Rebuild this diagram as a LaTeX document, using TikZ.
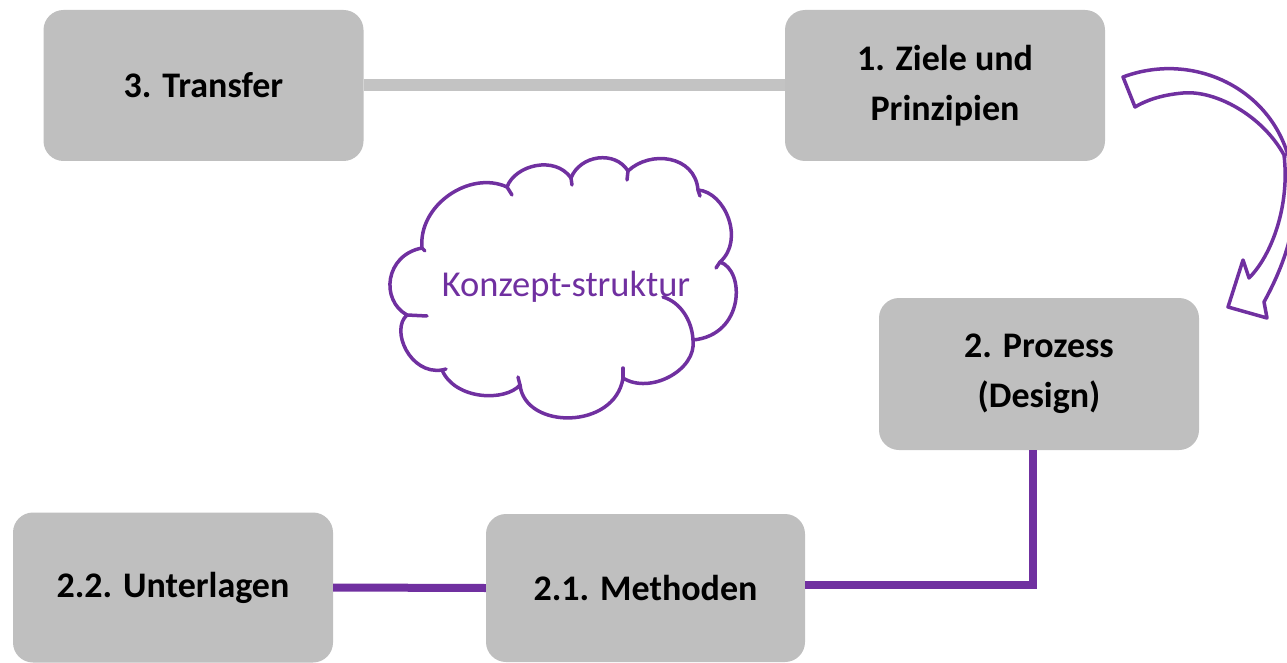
\documentclass[tikz,border=0pt]{standalone}
\usepackage{fontspec}
\setmainfont{Carlito}
\usetikzlibrary{calc}
\definecolor{boxgray}{HTML}{BFBFBF}
\definecolor{linegray}{HTML}{C3C3C3}
\definecolor{vio}{HTML}{7030A0}
\tikzset{
  gbox/.style={rectangle, rounded corners=20pt, fill=boxgray, draw=none,
    minimum width=320pt, minimum height=151pt, inner sep=0pt,
    font=\fontsize{36}{50}\selectfont\bfseries, align=center, text=black},
  grayline/.style={draw=linegray, line width=12pt},
  violine/.style={draw=vio, line width=8pt, line join=miter},
  vthin/.style={draw=vio, line width=3.5pt, line join=round, line cap=round}
}
\begin{document}
\begin{tikzpicture}[x=1pt,y=-1pt]
\useasboundingbox (0,0) rectangle (1287,663);
\clip (0,0) rectangle (1287,663);
% boxes
\node[gbox] (transfer) at (203.5,85.5) {3. Transfer};
\node[gbox] (ziele) at (945,85.5) {1. Ziele und\\Prinzipien};
\node[gbox, minimum height=152pt] (prozess) at (1039,374) {2. Prozess\\(Design)};
\node[gbox, minimum height=148pt, minimum width=319pt] (methoden) at (645.5,588) {2.1. Methoden};
\node[gbox, minimum height=150pt] (unterlagen) at (173,587.5) {2.2. Unterlagen};
% connectors
\draw[grayline] (transfer.east) -- (ziele.west);
\draw[violine] (unterlagen.east) -- (methoden.west);
\coordinate (pz) at ($(prozess.south)+(-6,0)$);
\draw[violine] ($(methoden.east)+(0,-3)$) -| (pz);
% cloud
\coordinate (J1) at (422,248);
\coordinate (J2) at (507,187);
\coordinate (J3) at (571,178);
\coordinate (J4) at (628,171);
\coordinate (J5) at (698,190);
\coordinate (J6) at (720,262);
\coordinate (J7) at (693,340);
\coordinate (J8) at (623,378);
\coordinate (J9) at (520,385);
\coordinate (J10) at (442,370);
\coordinate (J11) at (407,315);
\draw[vthin]
  (J1) .. controls (418,205) and (470,170) .. (J2)
  .. controls (515,165) and (555,155) .. (J3)
  .. controls (580,155) and (615,150) .. (J4)
  .. controls (650,150) and (695,155) .. (J5)
  .. controls (725,192) and (745,240) .. (J6)
  .. controls (745,270) and (745,335) .. (J7)
  .. controls (697,370) and (650,395) .. (J8)
  .. controls (615,430) and (525,430) .. (J9)
  .. controls (505,402) and (455,400) .. (J10)
  .. controls (410,375) and (390,330) .. (J11)
  .. controls (380,300) and (385,255) .. cycle;
% cloud inner ticks
\draw[vthin] (J1) -- (425,251);
\draw[vthin] (J2) -- (512,195);
\draw[vthin] (J3) -- (572,185);
\draw[vthin] (J4) -- (627,180);
\draw[vthin] (J5) -- (700,196);
\draw[vthin] (J6) -- (716,268);
\draw[vthin] (663,297) .. controls (680,302) and (692,320) .. (J7);
\draw[vthin] (J8) -- (623,368);
\draw[vthin] (J9) -- (518,377);
\draw[vthin] (J10) -- (446,369);
\draw[vthin] (J11) -- (427,316);
\node[text=vio, font=\fontsize{36.5}{40}\selectfont] (konzept) at (566,287) {Konzept-struktur};
% curved block arrow
\draw[vthin, fill=white]
  (1123,77) .. controls (1190,52) and (1265,85) .. (1287,152)
  .. controls (1300,195) and (1298,240) .. (1264,302)
  -- (1267,318) -- (1228,307) -- (1243,260) -- (1249,278)
  .. controls (1272,255) and (1290,205) .. (1284,155)
  .. controls (1262,115) and (1215,90) .. (1183,93)
  .. controls (1160,95) and (1145,101) .. (1135,107) -- cycle;
\end{tikzpicture}
\end{document}
